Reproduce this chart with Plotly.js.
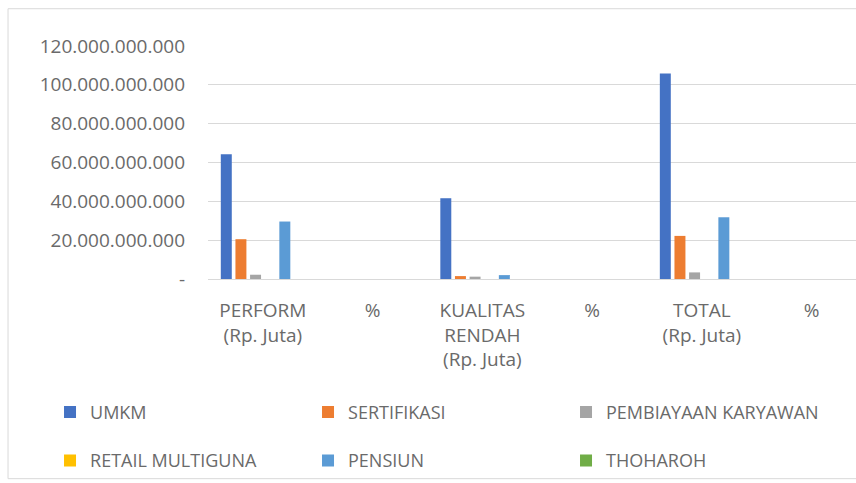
<!DOCTYPE html>
<html>
<head>
<meta charset="utf-8">
<script src="https://cdn.plot.ly/plotly-3.0.1.min.js"></script>
<style>
html,body{margin:0;padding:0;background:#fff;}
#chart{width:856px;height:483px;}
</style>
</head>
<body>
<div id="chart"></div>
<script>
// Categories (x axis tick labels)
var categories = ["PERFORM<br>(Rp. Juta)", "%", "KUALITAS<br>RENDAH<br>(Rp. Juta)", "%", "TOTAL<br>(Rp. Juta)", "%"];

// Series values (Rupiah)
var umkm        = [64200000000, 0, 41600000000, 0, 105800000000, 0];
var sertifikasi = [20500000000, 0, 1500000000, 0, 22200000000, 0];
var pembiayaan  = [2200000000, 0, 1200000000, 0, 3400000000, 0];
var retail      = [0, 0, 0, 0, 0, 0];
var pensiun     = [29600000000, 0, 2000000000, 0, 31800000000, 0];
var thoharoh    = [0, 0, 0, 0, 0, 0];

var seriesNames = ["UMKM", "SERTIFIKASI", "PEMBIAYAAN KARYAWAN", "RETAIL MULTIGUNA", "PENSIUN", "THOHAROH"];

// Y-axis ticks
var yTickVals = [0, 20000000000, 40000000000, 60000000000, 80000000000, 100000000000, 120000000000];
var yTickText = ["-", "20.000.000.000", "40.000.000.000", "60.000.000.000", "80.000.000.000", "100.000.000.000", "120.000.000.000"];

var colors = ["#4472C4", "#ED7D31", "#A5A5A5", "#FFC000", "#5B9BD5", "#70AD47"];
var seriesData = [umkm, sertifikasi, pembiayaan, retail, pensiun, thoharoh];
var legendOf = ["legend", "legend", "legend", "legend2", "legend2", "legend2"];

var xIdx = categories.map(function(_, i){ return i; });

var traces = seriesData.map(function(vals, i){
  var t = {
    type: "bar",
    name: seriesNames[i],
    x: xIdx,
    y: vals,
    marker: {color: colors[i]},
    legend: legendOf[i],
    hoverinfo: "skip"
  };
  if (i === 2 || i === 5) t.legendwidth = 225;
  return t;
});

var textFont = {family: "Open Sans, sans-serif", size: 19, color: "#6a6a6a"};
var legendFont = {family: "Open Sans, sans-serif", size: 18, color: "#6a6a6a"};

var layout = {
  width: 856,
  height: 483,
  paper_bgcolor: "#ffffff",
  plot_bgcolor: "#ffffff",
  margin: {l: 208, r: 0, t: 45.5, b: 203.5, pad: 0},
  barmode: "group",
  bargap: 0.2,
  bargroupgap: 0.25,
  font: textFont,
  xaxis: {
    type: "linear",
    range: [-0.5, 5.404],
    tickvals: xIdx,
    ticktext: categories,
    tickangle: 0,
    ticks: "",
    showgrid: false,
    zeroline: false,
    showline: false,
    tickfont: textFont,
    ticklabelstandoff: 18,
    fixedrange: true
  },
  yaxis: {
    range: [0, 120000000000],
    tickvals: yTickVals,
    ticktext: yTickText,
    ticks: "",
    showgrid: true,
    gridcolor: "#d9d9d9",
    gridwidth: 1,
    zeroline: true,
    zerolinecolor: "#d9d9d9",
    zerolinewidth: 1,
    showline: false,
    tickfont: textFont,
    ticklabelstandoff: 22,
    fixedrange: true
  },
  showlegend: true,
  legend: {
    orientation: "h",
    x: -0.2438, xanchor: "left",
    y: -0.572, yanchor: "middle",
    entrywidth: 213,
    entrywidthmode: "pixels",
    itemwidth: 30,
    font: legendFont,
    bgcolor: "rgba(0,0,0,0)",
    traceorder: "normal"
  },
  legend2: {
    orientation: "h",
    x: -0.2438, xanchor: "left",
    y: -0.78, yanchor: "middle",
    entrywidth: 213,
    entrywidthmode: "pixels",
    itemwidth: 30,
    font: legendFont,
    bgcolor: "rgba(0,0,0,0)",
    traceorder: "normal"
  },
  shapes: [{
    type: "rect", xref: "paper", yref: "paper",
    x0: -0.3086, x1: 1.05, y0: -0.857, y1: 1.16,
    line: {color: "#d9d9d9", width: 1},
    fillcolor: "rgba(0,0,0,0)",
    layer: "below"
  }]
};

Plotly.newPlot("chart", traces, layout, {displayModeBar: false, staticPlot: true});
</script>
</body>
</html>
